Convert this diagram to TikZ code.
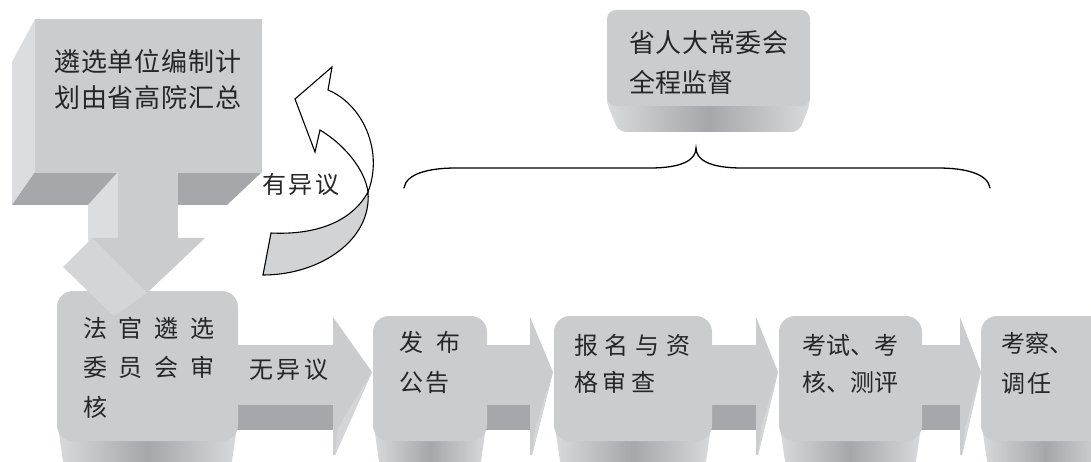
\documentclass[tikz,border=0pt]{standalone}
\usepackage{fontspec}
\setmainfont{Noto Sans CJK SC}
\definecolor{face}{HTML}{CBCCCE}
\definecolor{darkf}{HTML}{A6A7AA}
\definecolor{lightf}{HTML}{DCDDDF}
\definecolor{headside}{HTML}{D4D5D7}
\definecolor{ribbon}{HTML}{D2D3D5}
\definecolor{txt}{HTML}{262626}
\tikzset{
  lbl/.style={anchor=west, inner sep=0pt, text=txt, font=\fontsize{24}{28}\selectfont},
  lblbig/.style={anchor=west, inner sep=0pt, text=txt, font=\fontsize{26}{30}\selectfont},
  facefill/.style={fill=face},
  outline/.style={draw=black, line width=1.1pt, line join=miter},
}
\newcommand\sline[2]{\hbox to #1pt{#2}}
% bottom 3D box: x0, x1, top
\newcommand\botbox[3]{%
  \shade[left color=lightf!80!face, right color=lightf!80!face, middle color=darkf, rounded corners=10pt]
    (#1,420) -- (#1+8,475) -- (#2-8,475) -- (#2,420) -- cycle;
  \fill[face, rounded corners=16pt] (#1,#3) rectangle (#2,441);
}
% flat block arrow: x shaft start, x head start, x tip
\newcommand\blockarrow[3]{%
  \fill[face] (#1,345) rectangle (#2,406);
  \fill[darkf] (#1,405) rectangle (#2,430);
  \fill[face] (#2,317) -- (#3,372) -- (#2+2,455) -- (#2,455) -- cycle;
  \fill[headside] (#3,372) -- (#2+2,455) -- (#2+5,428) -- cycle;
}
\begin{document}
\begin{tikzpicture}[x=1pt, y=-1pt]
\useasboundingbox (0,0) rectangle (1091,462);
\clip (0,0) rectangle (1091,462);

% ---------- top-left 3D block ----------
\fill[lightf] (35,19) -- (12,62) -- (12,205) -- (35,172) -- cycle;
\fill[darkf] (35,172) -- (262,172) -- (227,205) -- (12,205) -- cycle;
\fill[face] (35,19) rectangle (262,173);

% ---------- bottom row block arrows ----------
\blockarrow{236}{333}{372}
\blockarrow{486}{530}{553}
\blockarrow{711}{756}{778}
\blockarrow{921}{960}{981}

% ---------- bottom row boxes ----------
\botbox{57}{238}{291}
\botbox{373}{487}{316}
\botbox{554}{712}{316}
\botbox{779}{922}{316}
\botbox{981}{1110}{316}

% ---------- down arrow from top-left block ----------
\fill[lightf] (118,172) -- (88,205) -- (88,241) -- (118,238) -- cycle;
\fill[face] (118,172) rectangle (178,239);
\fill[headside] (92,238) -- (63,267) -- (114,316) -- (147,293) -- cycle;
\fill[face] (92,238) -- (205,238) -- (147,293) -- cycle;

% ---------- curved return arrow ----------
\filldraw[fill=white, outline]
  (328,90) .. controls (362,104) and (384,150) .. (368,192)
  .. controls (365,170) and (345,145) .. (320,130)
  -- (315,152) -- (295,99) -- (332,67) -- cycle;
\filldraw[fill=ribbon, outline]
  (368,192) .. controls (372,240) and (320,275) .. (263,275)
  -- (271,233) .. controls (310,235) and (350,225) .. (368,192) -- cycle;

% ---------- top-right box ----------
\shade[left color=lightf!80!face, right color=lightf!80!face, middle color=darkf, rounded corners=7pt]
  (607,90) -- (607,104) -- (619,132) -- (799,132) -- (810,104) -- (810,90) -- cycle;
\fill[face, rounded corners=9pt] (607,10) rectangle (810,106);

% ---------- brace ----------
\draw[line width=1.3pt, line cap=round]
  (404,188) .. controls (406,174) and (428,168) .. (456,168) -- (650,168)
  .. controls (682,168) and (696,160) .. (696,148)
  .. controls (696,160) and (710,168) .. (742,168) -- (938,168)
  .. controls (966,168) and (988,174) .. (990,188);

% ---------- texts ----------
\node[lblbig] (tl1) at (54,62) {\sline{187}{遴\hfil 选\hfil 单\hfil 位\hfil 编\hfil 制\hfil 计}};
\node[lblbig] (tl2) at (54,98) {\sline{187}{划\hfil 由\hfil 省\hfil 高\hfil 院\hfil 汇\hfil 总}};

\node[lblbig] (tr1) at (629,43) {\sline{159}{省\hfil 人\hfil 大\hfil 常\hfil 委\hfil 会}};
\node[lblbig] (tr2) at (629,82) {\sline{100}{全\hfil 程\hfil 监\hfil 督}};

\node[lbl] (yy) at (262,184) {\sline{77}{有\hfil 异\hfil 议}};

\node[lbl] (b1a) at (83,328) {\sline{131}{法\hfil 官\hfil 遴\hfil 选}};
\node[lbl] (b1b) at (83,367) {\sline{131}{委\hfil 员\hfil 会\hfil 审}};
\node[lbl] (b1c) at (83,407) {核};

\node[lbl] (wy) at (249,370) {\sline{79}{无\hfil 异\hfil 议}};

\node[lbl] (b2a) at (399,342) {\sline{61}{发\hfil 布}};
\node[lbl] (b2b) at (399,382) {\sline{50}{公\hfil 告}};

\node[lbl] (b3a) at (574,345) {\sline{116}{报\hfil 名\hfil 与\hfil 资}};
\node[lbl] (b3b) at (574,382) {\sline{81}{格\hfil 审\hfil 查}};

\node[lbl] (b4a) at (802,345) {\sline{96}{考\hfil 试\hfil 、\hfil 考}};
\node[lbl] (b4b) at (802,382) {\sline{96}{核\hfil 、\hfil 测\hfil 评}};

\node[lbl] (b5a) at (1001,343) {\sline{66}{考\hfil 察\hfil 、}};
\node[lbl] (b5b) at (1001,383) {\sline{50}{调\hfil 任}};
\end{tikzpicture}
\end{document}
